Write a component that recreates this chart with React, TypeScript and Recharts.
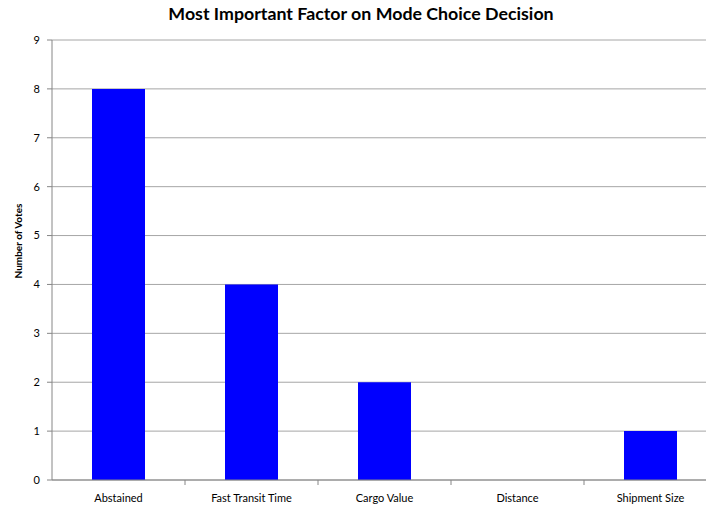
import { BarChart, Bar, XAxis, YAxis, CartesianGrid } from "recharts";

const categories = ["Abstained", "Fast Transit Time", "Cargo Value", "Distance", "Shipment Size"];
const votes = [8, 4, 2, 0, 1];
const yTicks = [0, 1, 2, 3, 4, 5, 6, 7, 8, 9];

const data = categories.map((name, i) => ({ name, votes: votes[i] }));

const FONT = "Lato, 'Open Sans', sans-serif";
const CHART_W = 720;
const CHART_H = 511;
const Y_AXIS_W = 52;
const RIGHT = 3;
const BAND = (CHART_W - Y_AXIS_W - RIGHT) / categories.length;

// label centred under the bar, small tick mark on the category boundary
const XTick = ({ x, y, payload, index }: any) => {
  const axisY = y - 14;
  return (
    <g>
      {index < categories.length - 1 && (
        <line x1={x + BAND / 2} x2={x + BAND / 2} y1={axisY} y2={axisY + 5} stroke="#868686" />
      )}
      <text x={x} y={y} dy="0.71em" textAnchor="middle" fontSize={11} fontFamily={FONT} fill="#000">
        {payload.value}
      </text>
    </g>
  );
};

export default function App() {
  return (
    <div style={{ position: "absolute", left: 0, top: 0, width: 706, height: 511, overflow: "hidden", background: "#fff" }}>
      <div
        style={{
          position: "absolute",
          left: 0,
          width: 722,
          top: 2,
          textAlign: "center",
          fontFamily: FONT,
          fontWeight: "bold",
          fontSize: 17.8,
          color: "#000",
        }}
      >
        Most Important Factor on Mode Choice Decision
      </div>
      <div
        style={{
          position: "absolute",
          left: 18,
          top: 241,
          transform: "translate(-50%, -50%) rotate(-90deg)",
          whiteSpace: "nowrap",
          fontFamily: FONT,
          fontWeight: "bold",
          fontSize: 10,
          color: "#000",
        }}
      >
        Number of Votes
      </div>
      <BarChart width={CHART_W} height={CHART_H} data={data} margin={{ top: 40, right: RIGHT, left: 0, bottom: 0 }} barSize={53}>
        <CartesianGrid vertical={false} stroke="#a6a6a6" />
        <XAxis
          dataKey="name"
          height={31}
          tickLine={false}
          tickMargin={8}
          axisLine={{ stroke: "#868686" }}
          tick={<XTick />}
          interval={0}
        />
        <YAxis
          width={Y_AXIS_W}
          domain={[0, 9]}
          ticks={yTicks}
          interval={0}
          tickSize={5}
          tickMargin={7}
          tickLine={{ stroke: "#868686" }}
          axisLine={{ stroke: "#868686" }}
          tick={{ fontSize: 11, fontFamily: FONT, fill: "#000" }}
        />
        <Bar dataKey="votes" fill="#0000ff" isAnimationActive={false} />
      </BarChart>
    </div>
  );
}
